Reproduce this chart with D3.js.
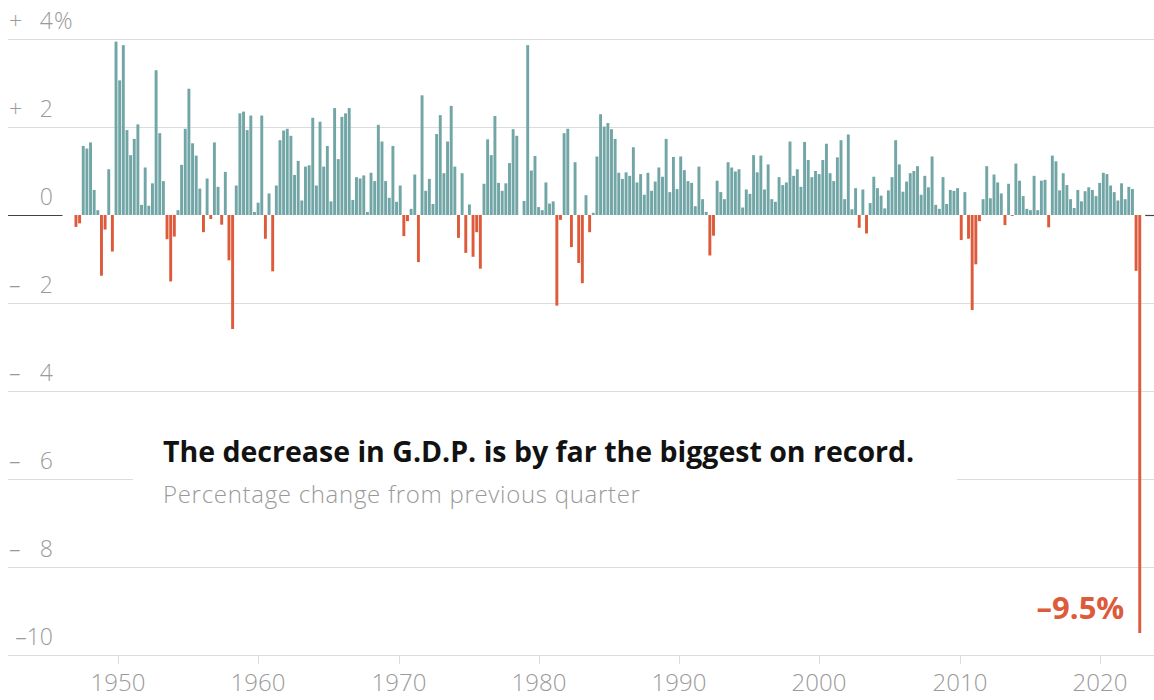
<!DOCTYPE html>
<html>
<head>
<meta charset="utf-8">
<script src="https://cdn.jsdelivr.net/npm/d3@7"></script>
<style>
  body { margin: 0; background: #fff; }
  text { font-family: "Open Sans", "Liberation Sans", sans-serif; }
</style>
</head>
<body>
<div id="chart"></div>
<script>
var width = 1154,
	height = 700;

//Quarterly change in G.D.P., percent, starting 1947 Q2
var startYear = 1947,
	startQuarter = 2;
var growth = [
	-0.27, -0.19, 1.57,
	1.51, 1.65, 0.57, 0.11,     //1948
	-1.38, -0.33, 1.04, -0.83,  //1949
	3.94, 3.06, 3.86, 1.93,     //1950
	1.36, 1.73, 2.06, 0.23,
	1.08, 0.21, 0.72, 3.29,
	1.86, 0.77, -0.55, -1.51,
	-0.49, 0.11, 1.14, 1.96,
	2.87, 1.63, 1.35, 0.60,     //1955
	-0.39, 0.83, -0.09, 1.65,
	0.64, -0.22, 0.98, -1.03,
	-2.59, 0.67, 2.31, 2.35,
	1.93, 2.26, 0.07, 0.28,
	2.26, -0.54, 0.49, -1.28,   //1960
	0.67, 1.70, 1.92, 1.96,
	1.80, 0.91, 1.23, 0.33,
	1.10, 1.13, 2.21, 0.67,
	2.12, 1.10, 1.57, 0.31,
	2.43, 1.27, 2.23, 2.31,     //1965
	2.43, 0.34, 0.86, 0.83,
	0.90, 0.07, 0.96, 0.77,
	2.05, 1.67, 0.77, 0.39,
	1.57, 0.30, 0.67, -0.48,
	-0.14, 0.14, 0.92, -1.07,   //1970
	2.72, 0.55, 0.82, 0.25,
	1.84, 2.27, 0.95, 1.67,
	2.48, 1.10, -0.52, 0.95,
	-0.86, 0.24, -0.95, -0.39,
	-1.22, 0.71, 1.72, 1.36,    //1975
	2.25, 0.73, 0.55, 0.72,
	1.18, 1.95, 1.80, 0.00,
	0.32, 3.86, 1.01, 1.34,
	0.18, 0.11, 0.74, 0.26,
	0.31, -2.06, -0.11, 1.86,   //1980
	1.96, -0.73, 1.20, -1.09,
	-1.55, 0.45, -0.39, 0.05,
	1.33, 2.29, 2.01, 2.09,
	1.95, 1.73, 0.96, 0.82,
	0.97, 0.89, 1.54, 0.74,     //1985
	0.93, 0.46, 0.96, 0.55,
	0.76, 1.08, 0.87, 1.73,
	0.52, 1.32, 0.59, 1.33,
	1.02, 0.77, 0.73, 0.20,
	1.10, 0.36, 0.07, -0.92,    //1990
	-0.47, 0.78, 0.52, 0.36,
	1.20, 1.08, 0.99, 1.04,
	0.17, 0.58, 0.48, 1.36,
	0.97, 1.35, 0.58, 1.15,
	0.36, 0.30, 0.86, 0.68,     //1995
	0.74, 1.67, 0.89, 1.04,
	0.64, 1.66, 1.25, 0.86,
	1.00, 0.93, 1.25, 1.62,
	0.95, 0.77, 1.31, 1.70,
	0.36, 1.83, 0.13, 0.61,     //2000
	-0.29, 0.58, -0.42, 0.27,
	0.87, 0.61, 0.44, 0.15,
	0.56, 0.86, 1.70, 1.15,
	0.53, 0.76, 0.95, 1.00,
	1.11, 0.46, 0.89, 0.63,     //2005
	1.33, 0.23, 0.14, 0.86,
	0.25, 0.57, 0.55, 0.61,
	-0.57, 0.52, -0.54, -2.16,
	-1.12, -0.14, 0.36, 1.11,
	0.38, 0.92, 0.74, 0.49,     //2010
	-0.23, 0.71, -0.02, 1.17,
	0.78, 0.43, 0.14, 0.11,
	0.89, 0.11, 0.78, 0.80,
	-0.28, 1.35, 1.22, 0.56,
	0.95, 0.68, 0.36, 0.16,     //2015
	0.57, 0.31, 0.54, 0.63,
	0.57, 0.43, 0.73, 0.96,
	0.93, 0.67, 0.52, 0.33,
	0.72, 0.36, 0.64, 0.59,
	-1.27, -9.5                 //2020
];

var yTicks = [4, 2, 0, -2, -4, -6, -8, -10];
var yearTicks = [1950, 1960, 1970, 1980, 1990, 2000, 2010, 2020];

var titleText = "The decrease in G.D.P. is by far the biggest on record.",
	subtitleText = "Percentage change from previous quarter";

var teal = "#72a6a6",
	red = "#dd5a3b",
	grid = "#dcdcdc",
	labelgrey = "#9a9a9a";

///////////////////////////////////////////////////////////////////////////
//////////////////////////////// Data prep ////////////////////////////////
///////////////////////////////////////////////////////////////////////////

var data = growth.map(function(v, i) {
	var q = startQuarter - 1 + i;
	return {
		year: startYear + Math.floor(q / 4),
		quarter: (q % 4) + 1,
		index: i,
		value: v
	};
});

var svg = d3.select("#chart").append("svg")
	.attr("width", width)
	.attr("height", height);

var y = d3.scaleLinear()
	.domain([-10, 4])
	.range([655, 39]);

var x = d3.scaleBand()
	.domain(data.map(function(d) { return d.index; }))
	.range([74.5, 1141.2])
	.paddingInner(0.2)
	.paddingOuter(0);

var xYear = d3.scaleLinear()
	.domain([1950, 2020])
	.range([118, 1100]);

///////////////////////////////////////////////////////////////////////////
///////////////////////////////// Grid ////////////////////////////////////
///////////////////////////////////////////////////////////////////////////

var gridG = svg.append("g").attr("class", "grid");
gridG.selectAll("line")
	.data(yTicks.filter(function(d) { return d !== 0; }))
	.enter().append("line")
	.attr("x1", 8)
	.attr("x2", width)
	.attr("y1", function(d) { return Math.round(y(d)) + 0.5; })
	.attr("y2", function(d) { return Math.round(y(d)) + 0.5; })
	.style("stroke", grid)
	.style("stroke-width", 1);

//zero line, only shown outside the bars
var zeroY = Math.round(y(0)) + 0.5;
var lastX = x(data.length - 1) + x.bandwidth();
svg.append("line")
	.attr("x1", 8).attr("x2", x(0) - 12)
	.attr("y1", zeroY).attr("y2", zeroY)
	.style("stroke", "#444").style("stroke-width", 1.2);
svg.append("line")
	.attr("x1", lastX + 4).attr("x2", width)
	.attr("y1", zeroY).attr("y2", zeroY)
	.style("stroke", "#444").style("stroke-width", 1.2);

//y labels: sign on the left, number right aligned
var yLab = svg.append("g").attr("class", "y-labels")
	.selectAll("g")
	.data(yTicks)
	.enter().append("g")
	.attr("transform", function(d) { return "translate(0," + (y(d) - 10) + ")"; });

yLab.append("text")
	.attr("x", 9)
	.style("font-size", "23px")
	.style("font-weight", 300)
	.style("fill", labelgrey)
	.text(function(d) { return d > 0 ? "+" : (d < 0 && d > -10 ? "\u2013" : ""); });
yLab.append("text")
	.attr("x", 53)
	.style("text-anchor", "end")
	.style("font-size", "23px")
	.style("font-weight", 300)
	.style("fill", labelgrey)
	.text(function(d) { return d === -10 ? "\u201310" : Math.abs(d); });
yLab.filter(function(d) { return d === 4; }).append("text")
	.attr("x", 54)
	.style("font-size", "23px")
	.style("font-weight", 300)
	.style("fill", labelgrey)
	.text("%");

//x axis ticks and labels
var xLab = svg.append("g").attr("class", "x-labels")
	.selectAll("g")
	.data(yearTicks)
	.enter().append("g")
	.attr("transform", function(d) { return "translate(" + Math.round(xYear(d)) + ",0)"; });
xLab.append("line")
	.attr("x1", 0.5).attr("x2", 0.5)
	.attr("y1", y(-10)).attr("y2", y(-10) + 9)
	.style("stroke", grid);
xLab.append("text")
	.attr("y", 691)
	.style("text-anchor", "middle")
	.style("font-size", "24px")
	.style("font-weight", 300)
	.style("fill", labelgrey)
	.text(function(d) { return d; });

///////////////////////////////////////////////////////////////////////////
///////////////////////////////// Bars ////////////////////////////////////
///////////////////////////////////////////////////////////////////////////

svg.append("g").attr("class", "bars")
	.selectAll("rect")
	.data(data)
	.enter().append("rect")
	.attr("x", function(d) { return x(d.index); })
	.attr("width", x.bandwidth())
	.attr("y", function(d) { return y(Math.max(0, d.value)); })
	.attr("height", function(d) { return Math.abs(y(d.value) - y(0)); })
	.style("fill", function(d) { return d.value < 0 ? red : teal; });

///////////////////////////////////////////////////////////////////////////
////////////////////////////// Annotations ////////////////////////////////
///////////////////////////////////////////////////////////////////////////

svg.append("rect")
	.attr("x", 133)
	.attr("y", 420)
	.attr("width", 824)
	.attr("height", 110)
	.style("fill", "white");

svg.append("text")
	.attr("x", 163)
	.attr("y", 462)
	.style("font-size", "28.5px")
	.style("font-weight", 700)
	.style("fill", "#121212")
	.text(titleText);

svg.append("text")
	.attr("x", 163)
	.attr("y", 503)
	.style("font-size", "24px")
	.style("font-weight", 300)
	.style("letter-spacing", "0.7px")
	.style("fill", labelgrey)
	.text(subtitleText);

var last = data[data.length - 1];
svg.append("text")
	.attr("x", x(last.index) - 14)
	.attr("y", 619)
	.style("text-anchor", "end")
	.style("font-size", "31px")
	.style("font-weight", 700)
	.style("fill", red)
	.text("\u2013" + Math.abs(last.value) + "%");
</script>
</body>
</html>
